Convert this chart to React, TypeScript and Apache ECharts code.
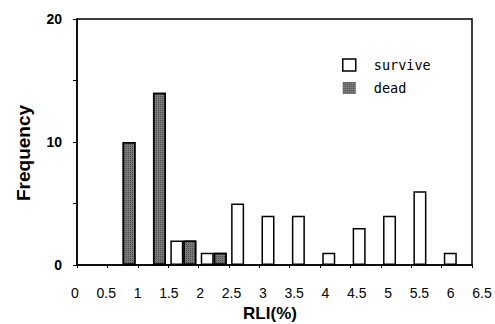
import React, { useEffect, useRef } from "react";
import * as echarts from "echarts";

const bins = ["0-0.5", "0.5-1", "1-1.5", "1.5-2", "2-2.5", "2.5-3", "3-3.5", "3.5-4", "4-4.5", "4.5-5", "5-5.5", "5.5-6", "6-6.5"];
const survive: (number | string)[] = ["-", "-", "-", 2, 1, 5, 4, 4, 1, 3, 4, 6, 1];
const dead: (number | string)[] = ["-", 10, 14, 2, 1, "-", "-", "-", "-", "-", "-", "-", "-"];
const xMin = 0;
const xMax = 6.5;
const xStep = 0.5;
const yMax = 20;
const yStep = 5;
const yLabels = [0, 10, 20];

const SANS = "'Liberation Sans', Arial, Helvetica, sans-serif";

export default function App() {
  const ref = useRef<HTMLDivElement>(null);
  useEffect(() => {
    if (!ref.current) return;
    const chart = echarts.init(ref.current, undefined, { renderer: "svg" });
    const deadStyle = {
      color: "#7a7a7a",
      borderColor: "#000",
      borderWidth: 1.5,
      decal: {
        symbol: "rect",
        symbolSize: 1,
        dashArrayX: [1, 1],
        dashArrayY: [1, 1],
        color: "rgba(40,40,40,0.6)",
        rotation: 0,
      },
    };
    chart.setOption({
      animation: false,
      aria: { enabled: false, decal: { show: true } },
      grid: [
        { left: 77, right: 23, top: 19, bottom: 59, show: true, borderColor: "#000", borderWidth: 1.5, backgroundColor: "transparent" },
        { left: 75, right: 13, top: 19, bottom: 59 },
      ],
      legend: {
        orient: "vertical",
        left: 342,
        top: 58,
        padding: 0,
        itemWidth: 13,
        itemHeight: 12,
        itemGap: 9,
        textStyle: { fontFamily: "'DejaVu Sans Mono', monospace", fontSize: 13.5, color: "#000", padding: [0, 0, 0, 13] },
        data: [
          { name: "survive", icon: "rect", itemStyle: { color: "#fff", borderColor: "#000", borderWidth: 1.5 } },
          { name: "dead", icon: "rect", itemStyle: { color: "#7a7a7a", borderWidth: 0 } },
        ],
      },
      xAxis: [
        { type: "category", gridIndex: 0, data: bins, show: false },
        {
          type: "value",
          gridIndex: 0,
          min: xMin,
          max: xMax,
          interval: xStep,
          position: "bottom",
          axisLine: { show: true, lineStyle: { color: "#000", width: 1.5 } },
          axisTick: { show: true, length: 3, lineStyle: { color: "#000", width: 1 } },
          axisLabel: { show: false },
          splitLine: { show: false },
        },
        {
          type: "value",
          gridIndex: 1,
          min: xMin,
          max: xMax,
          interval: xStep,
          axisLine: { show: false },
          axisTick: { show: false },
          axisLabel: { show: true, fontFamily: SANS, fontSize: 14, color: "#000", margin: 21 },
          splitLine: { show: false },
        },
      ],
      yAxis: [
        {
          type: "value",
          gridIndex: 0,
          min: 0,
          max: yMax,
          interval: yStep,
          axisLine: { show: true, lineStyle: { color: "#000", width: 1.5 } },
          axisTick: { show: true, length: 4, lineStyle: { color: "#000", width: 1 } },
          axisLabel: {
            fontFamily: SANS,
            fontSize: 14,
            fontWeight: "bold",
            color: "#000",
            margin: 15,
            formatter: (v: number) => (yLabels.includes(v) ? String(v) : ""),
          },
          splitLine: { show: false },
        },
        { type: "value", gridIndex: 1, min: 0, max: yMax, show: false },
      ],
      series: [
        {
          name: "survive",
          type: "bar",
          xAxisIndex: 0,
          yAxisIndex: 0,
          data: survive,
          barWidth: 13,
          barGap: "0%",
          itemStyle: { color: "#fff", borderColor: "#000", borderWidth: 1.5 },
        },
        {
          name: "dead",
          type: "bar",
          xAxisIndex: 0,
          yAxisIndex: 0,
          data: dead,
          barWidth: 13,
          barGap: "0%",
          itemStyle: deadStyle,
        },
      ],
      graphic: [
        {
          type: "text",
          x: 23,
          y: 153,
          rotation: Math.PI / 2,
          style: { text: "Frequency", fontFamily: SANS, fontSize: 19, fontWeight: "bold", fill: "#000", align: "center", verticalAlign: "middle" },
        },
        {
          type: "text",
          x: 270,
          y: 313,
          style: { text: "RLI(%)", fontFamily: SANS, fontSize: 17, fontWeight: "bold", fill: "#000", align: "center", verticalAlign: "middle" },
        },
      ],
    });
    return () => chart.dispose();
  }, []);
  return <div ref={ref} style={{ width: 495, height: 324, position: "absolute", left: 0, top: 0 }} />;
}
